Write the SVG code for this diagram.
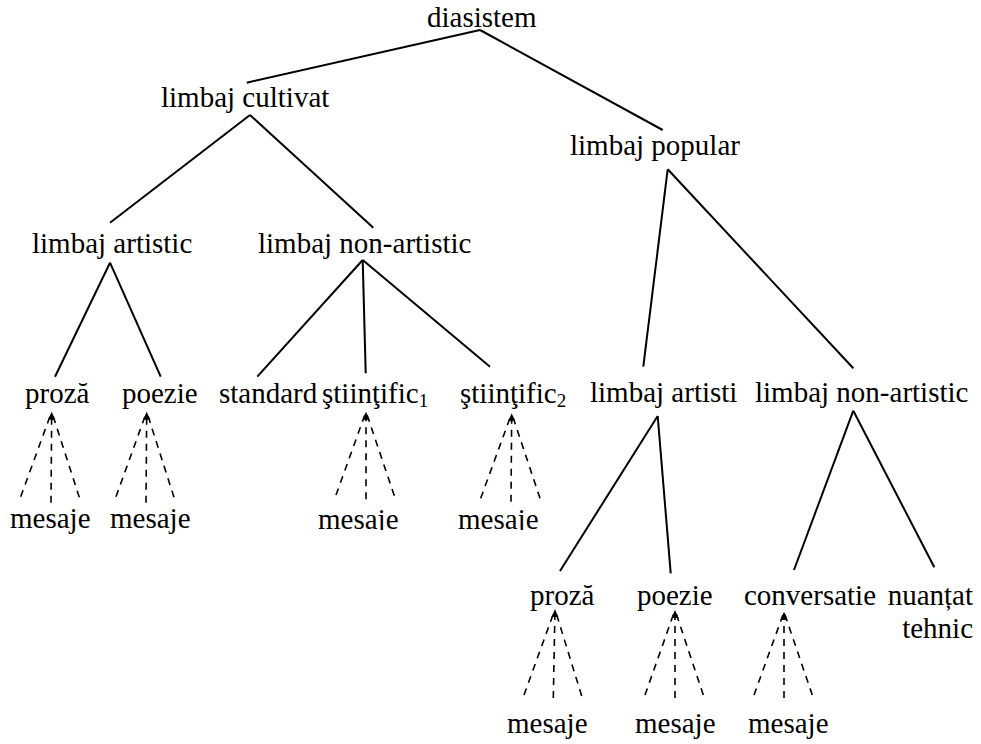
<svg xmlns="http://www.w3.org/2000/svg" width="981" height="744" viewBox="0 0 981 744">
<style>
.t text{font-size:29px;fill:#000}
.sub{font-size:19px}
.edge{stroke:#000;stroke-width:2;fill:none;stroke-linecap:butt}
.dash{stroke:#000;stroke-width:1.6;fill:none;stroke-dasharray:7 6}
</style>
<defs>
<marker id="ah" markerUnits="userSpaceOnUse" markerWidth="10" markerHeight="10" refX="8" refY="3.5" orient="auto">
<path d="M0,0 L8,3.5 L0,7 z" fill="#000"/>
</marker>
<clipPath id="clipArt"><rect x="580" y="360" width="158" height="60"/></clipPath>
<clipPath id="clipMes"><rect x="300" y="490" width="260" height="40"/></clipPath>
</defs>
<rect width="981" height="744" fill="#fff"/>
<g id="connectors">
<line class="edge" x1="480" y1="30" x2="246.7" y2="82.7"/>
<line class="edge" x1="480" y1="30" x2="662.7" y2="130"/>
<line class="edge" x1="250" y1="115" x2="110" y2="222.7"/>
<line class="edge" x1="250" y1="115" x2="373.3" y2="227.7"/>
<line class="edge" x1="110" y1="262.7" x2="55" y2="376.7"/>
<line class="edge" x1="110" y1="262.7" x2="160.7" y2="376.7"/>
<line class="edge" x1="362.7" y1="260" x2="257.3" y2="376.7"/>
<line class="edge" x1="362.7" y1="260" x2="365.7" y2="373.3"/>
<line class="edge" x1="362.7" y1="260" x2="490" y2="366.7"/>
<line class="edge" x1="667.7" y1="169.3" x2="643.3" y2="366.7"/>
<line class="edge" x1="667.7" y1="169.3" x2="853.3" y2="368.3"/>
<line class="edge" x1="657.7" y1="416" x2="560" y2="571"/>
<line class="edge" x1="657.7" y1="416" x2="670.7" y2="573.3"/>
<line class="edge" x1="853.3" y1="410.7" x2="794" y2="570"/>
<line class="edge" x1="853.3" y1="410.7" x2="934.3" y2="567.3"/>
<line class="dash" x1="20.7" y1="496.7" x2="51.7" y2="411.7"/>
<line class="dash" x1="51" y1="502.7" x2="51.7" y2="411.7" marker-end="url(#ah)"/>
<line class="dash" x1="79.3" y1="497.3" x2="51.7" y2="411.7"/>
<line class="dash" x1="116" y1="496.7" x2="146.7" y2="411.7"/>
<line class="dash" x1="146" y1="502.7" x2="146.7" y2="411.7" marker-end="url(#ah)"/>
<line class="dash" x1="174" y1="497.3" x2="146.7" y2="411.7"/>
<line class="dash" x1="336" y1="495" x2="366" y2="411.7"/>
<line class="dash" x1="366" y1="499.3" x2="366" y2="411.7" marker-end="url(#ah)"/>
<line class="dash" x1="394.3" y1="495.7" x2="366" y2="411.7"/>
<line class="dash" x1="480.7" y1="498.3" x2="511.7" y2="413.3"/>
<line class="dash" x1="511" y1="501.7" x2="511.7" y2="413.3" marker-end="url(#ah)"/>
<line class="dash" x1="540" y1="498.3" x2="511.7" y2="413.3"/>
<line class="dash" x1="524" y1="695" x2="555" y2="609.3"/>
<line class="dash" x1="553.3" y1="698" x2="555" y2="609.3" marker-end="url(#ah)"/>
<line class="dash" x1="581.7" y1="696" x2="555" y2="609.3"/>
<line class="dash" x1="645" y1="695" x2="675" y2="610"/>
<line class="dash" x1="675" y1="698" x2="675" y2="610" marker-end="url(#ah)"/>
<line class="dash" x1="703.3" y1="695" x2="675" y2="610"/>
<line class="dash" x1="754" y1="695" x2="784" y2="612"/>
<line class="dash" x1="784" y1="698" x2="784" y2="612" marker-end="url(#ah)"/>
<line class="dash" x1="812.3" y1="695" x2="784" y2="612"/>
</g>
<g class="t" font-family="Liberation Serif, serif">
<g id="n-diasistem"><text x="427" y="27">diasistem</text></g>
<g id="n-cultivat"><text x="161" y="107">limbaj cultivat</text></g>
<g id="n-popular"><text x="570" y="155">limbaj popular</text></g>
<g id="n-artistic1"><text x="32" y="253">limbaj artistic</text></g>
<g id="n-nonartistic1"><text x="258" y="253">limbaj non-artistic</text></g>
<g id="n-proza1"><text x="25" y="403">proză</text></g>
<g id="n-poezie1"><text x="122" y="403">poezie</text></g>
<g id="n-standard"><text x="219" y="403">standard</text></g>
<g id="n-stiintific1"><text x="322" y="403">ştiinţific<tspan class="sub" dy="4">1</tspan></text></g>
<g id="n-stiintific2"><text x="460" y="403">ştiinţific<tspan class="sub" dy="4">2</tspan></text></g>
<g id="n-artistic2"><text x="590" y="402" clip-path="url(#clipArt)">limbaj artistic</text></g>
<g id="n-nonartistic2"><text x="755" y="402">limbaj non-artistic</text></g>
<g id="n-mesaje1"><text x="10" y="528">mesaje</text></g>
<g id="n-mesaje2"><text x="110" y="528">mesaje</text></g>
<g id="n-mesaje3"><text x="318" y="529" clip-path="url(#clipMes)">mesaje</text></g>
<g id="n-mesaje4"><text x="458" y="529" clip-path="url(#clipMes)">mesaje</text></g>
<g id="n-proza2"><text x="530" y="605">proză</text></g>
<g id="n-poezie2"><text x="637" y="605">poezie</text></g>
<g id="n-conversatie"><text x="744" y="605">conversatie</text></g>
<g id="n-nuantat"><text x="973" y="605" text-anchor="end">nuanțat</text><text x="973" y="638" text-anchor="end">tehnic</text></g>
<g id="n-mesaje5"><text x="507" y="733">mesaje</text></g>
<g id="n-mesaje6"><text x="635" y="733">mesaje</text></g>
<g id="n-mesaje7"><text x="748" y="733">mesaje</text></g>
</g>
</svg>
